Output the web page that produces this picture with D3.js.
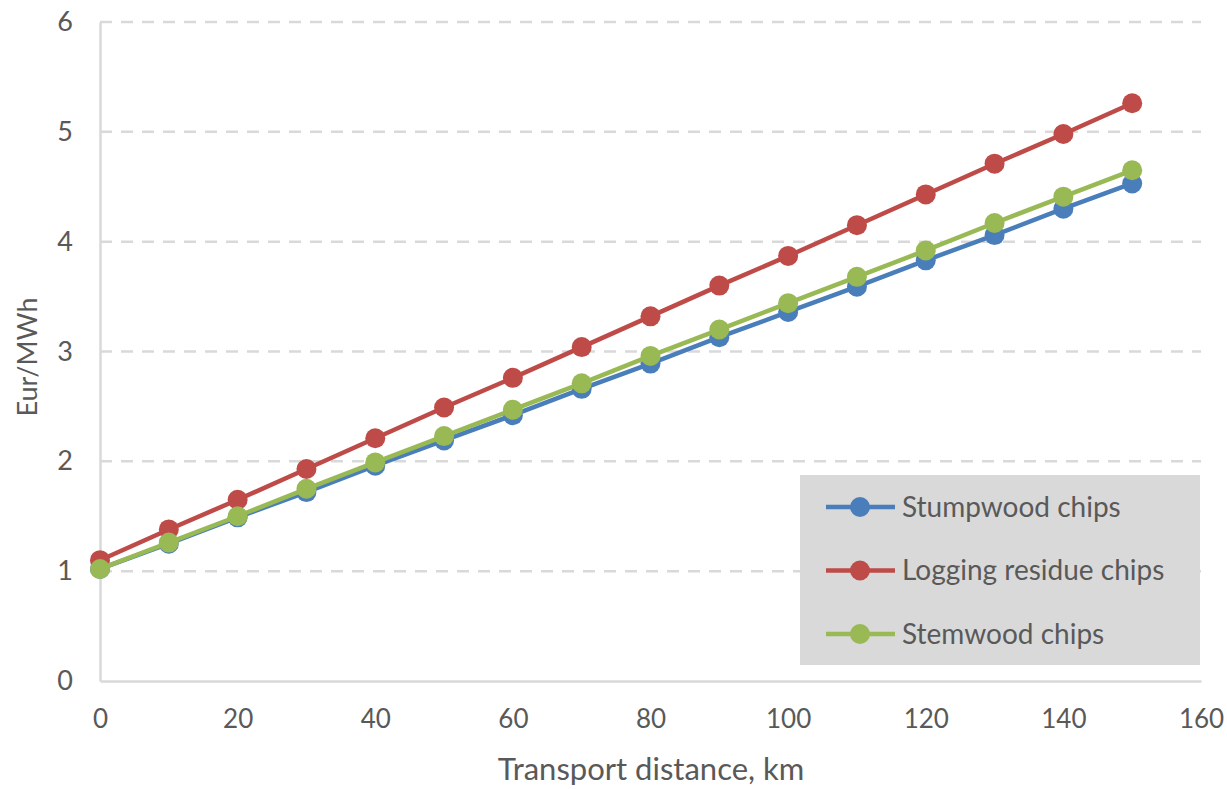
<!DOCTYPE html>
<html>
<head>
<meta charset="utf-8">
<script src="https://cdn.jsdelivr.net/npm/d3@7"></script>
<style>
  html, body { margin: 0; padding: 0; background: #fff; }
  svg { display: block; font-family: Lato, "Open Sans", sans-serif; }
</style>
</head>
<body>
<svg id="chart" width="1227" height="789"></svg>
<script>
// Transport distance (km)
const distances = [0, 10, 20, 30, 40, 50, 60, 70, 80, 90, 100, 110, 120, 130, 140, 150];

// Transport cost per MWh for each fuel type
const stumpwood = [1.02, 1.25, 1.49, 1.72, 1.96, 2.19, 2.42, 2.66, 2.89, 3.13, 3.36, 3.59, 3.83, 4.06, 4.30, 4.53];
const loggingResidue = [1.10, 1.38, 1.65, 1.93, 2.21, 2.49, 2.76, 3.04, 3.32, 3.60, 3.87, 4.15, 4.43, 4.71, 4.98, 5.26];
const stemwood = [1.02, 1.26, 1.50, 1.75, 1.99, 2.23, 2.47, 2.71, 2.96, 3.20, 3.44, 3.68, 3.92, 4.17, 4.41, 4.65];

const seriesNames = ["Stumpwood chips", "Logging residue chips", "Stemwood chips"];
const seriesColors = ["#4a7ebb", "#be4b48", "#98b954"];

const xTicks = [0, 20, 40, 60, 80, 100, 120, 140, 160];
const yTicks = [0, 1, 2, 3, 4, 5, 6];

const series = [stumpwood, loggingResidue, stemwood].map((vals, i) => ({
  name: seriesNames[i],
  color: seriesColors[i],
  points: distances.map((d, j) => ({ x: d, y: vals[j] }))
}));

const svg = d3.select("#chart");
const margin = { left: 100, right: 26, top: 22, bottom: 108 };
const W = 1227, H = 789;

const x = d3.scaleLinear().domain([0, 160]).range([margin.left, W - margin.right]);
const y = d3.scaleLinear().domain([0, 6]).range([H - margin.bottom, margin.top]);

const textColor = "#595959";
const axisColor = "#d9d9d9";

// Horizontal dashed gridlines
svg.append("g")
  .selectAll("line")
  .data(yTicks.filter(t => t > 0))
  .join("line")
  .attr("x1", x(0)).attr("x2", x(160))
  .attr("y1", d => y(d)).attr("y2", d => y(d))
  .attr("stroke", axisColor)
  .attr("stroke-width", 2.5)
  .attr("stroke-dasharray", "12,9");

// Y axis
const yAxis = svg.append("g")
  .attr("transform", `translate(${x(0)},0)`)
  .call(d3.axisLeft(y).tickValues(yTicks).tickSize(0).tickPadding(27).tickFormat(d3.format("d")));
yAxis.select(".domain").attr("stroke", axisColor).attr("stroke-width", 2.5);
yAxis.selectAll("text")
  .attr("fill", textColor)
  .style("font-size", "27px")
  .style("font-family", "Lato, sans-serif");

// X axis
const xAxis = svg.append("g")
  .attr("transform", `translate(0,${y(0)})`)
  .call(d3.axisBottom(x).tickValues(xTicks).tickSize(0).tickPadding(29).tickFormat(d3.format("d")));
xAxis.select(".domain").attr("stroke", axisColor).attr("stroke-width", 2.5);
xAxis.selectAll(".tick text")
  .attr("fill", textColor)
  .style("font-size", "26px")
  .style("font-family", "Lato, sans-serif");

// Axis titles
svg.append("text")
  .attr("x", 651)
  .attr("y", 780)
  .attr("text-anchor", "middle")
  .attr("fill", textColor)
  .style("font-size", "31px")
  .text("Transport distance, km");

svg.append("text")
  .attr("transform", `translate(37,357) rotate(-90)`)
  .attr("text-anchor", "middle")
  .attr("fill", textColor)
  .style("font-size", "27px")
  .text("Eur/MWh");

// Series lines and markers
const line = d3.line().x(d => x(d.x)).y(d => y(d.y));
const plot = svg.append("g");
series.forEach(s => {
  const g = plot.append("g");
  g.append("path")
    .datum(s.points)
    .attr("d", line)
    .attr("fill", "none")
    .attr("stroke", s.color)
    .attr("stroke-width", 4.5);
  g.selectAll("circle")
    .data(s.points)
    .join("circle")
    .attr("cx", d => x(d.x))
    .attr("cy", d => y(d.y))
    .attr("r", 10)
    .attr("fill", s.color);
});

// Legend
const legend = svg.append("g");
legend.append("rect")
  .attr("x", 800).attr("y", 475)
  .attr("width", 400).attr("height", 190)
  .attr("fill", "#d9d9d9");
series.forEach((s, i) => {
  const cy = 507 + i * 63.5;
  legend.append("line")
    .attr("x1", 826).attr("x2", 895)
    .attr("y1", cy).attr("y2", cy)
    .attr("stroke", s.color).attr("stroke-width", 4.5);
  legend.append("circle")
    .attr("cx", 860).attr("cy", cy).attr("r", 10)
    .attr("fill", s.color);
  legend.append("text")
    .attr("x", 902).attr("y", cy)
    .attr("dy", "0.35em")
    .attr("fill", textColor)
    .style("font-size", "28px")
    .text(s.name);
});
</script>
</body>
</html>
